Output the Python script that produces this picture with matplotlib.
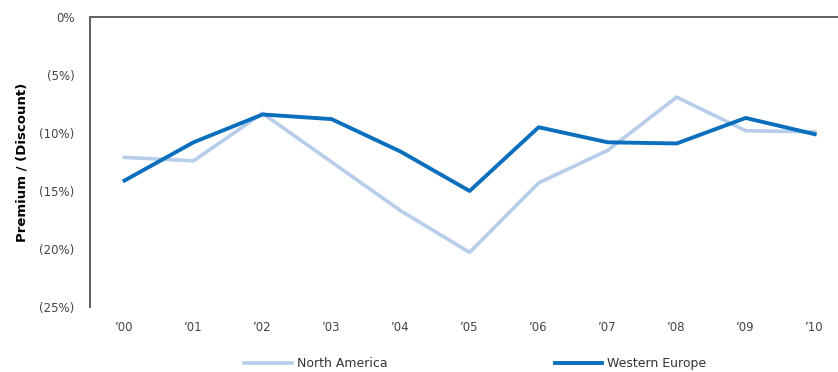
import matplotlib.pyplot as plt
import matplotlib.ticker as mticker

# Data
years = ["\u201900", "\u201901", "\u201902", "\u201903", "\u201904", "\u201905",
         "\u201906", "\u201907", "\u201908", "\u201909", "\u201910"]
north_america = [-12.1, -12.4, -8.3, -12.5, -16.7, -20.3, -14.3, -11.5, -6.9, -9.8, -9.9]
western_europe = [-14.1, -10.8, -8.4, -8.8, -11.6, -15.0, -9.5, -10.8, -10.9, -8.7, -10.1]
y_ticks = [0, -5, -10, -15, -20, -25]

plt.rcParams["font.family"] = ["DejaVu Sans"]

fig = plt.figure(figsize=(8.38, 3.72), dpi=100)
ax = fig.add_axes([0.1074, 0.175, 0.906, 0.779])

x = range(len(years))
ax.plot(x, north_america, color="#b7cde9", lw=2.6, label="North America")
ax.plot(x, western_europe, color="#0a6fbd", lw=2.8, label="Western Europe")

ax.set_xlim(-0.5, len(years) - 0.5)
ax.set_ylim(-25, 0)
ax.set_xticks(list(x))
ax.set_xticklabels(years)
ax.set_yticks(y_ticks)
ax.yaxis.set_major_formatter(
    mticker.FuncFormatter(lambda v, p: "0%" if v == 0 else "({:.0f}%)".format(abs(v))))
ax.tick_params(length=0, labelsize=8.5, labelcolor="#444444")
ax.tick_params(axis="y", pad=11)
ax.tick_params(axis="x", pad=10)

for side in ["right", "bottom"]:
    ax.spines[side].set_visible(False)
for side in ["left", "top"]:
    ax.spines[side].set_color("#606060")
    ax.spines[side].set_linewidth(1.4)

ax.set_ylabel("Premium / (Discount)", fontsize=9.5, fontweight="bold", labelpad=8)

fig.legend(loc="center", bbox_to_anchor=(0.567, 0.022), ncol=2, frameon=False,
           handlelength=3.8, handletextpad=0.4, columnspacing=13.4, fontsize=9,
           labelcolor="#333333")

fig.savefig("out.png", dpi=100)
